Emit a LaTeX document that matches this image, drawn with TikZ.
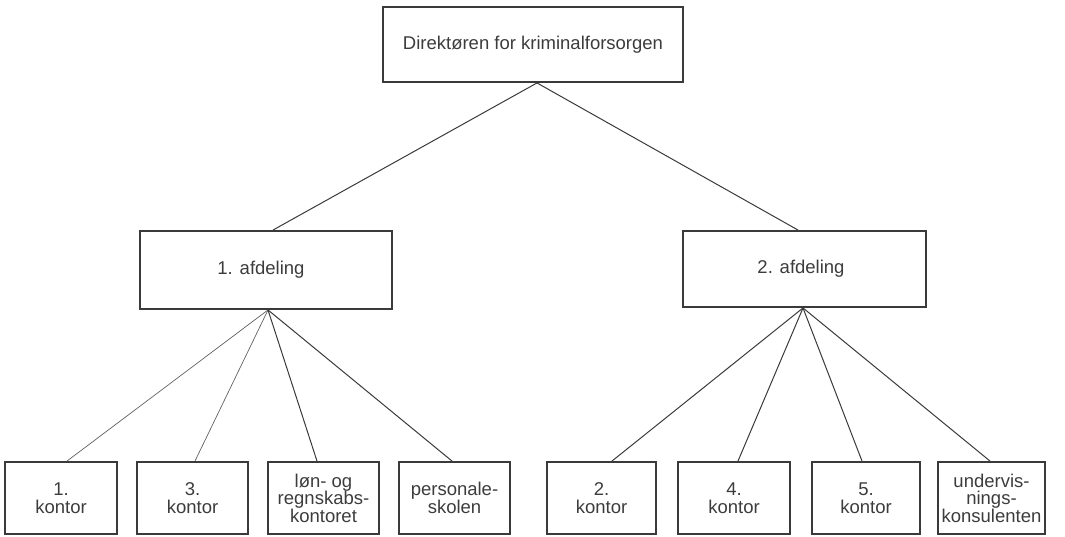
\documentclass[tikz,border=0pt]{standalone}
\usepackage{fontspec}
\setmainfont{Liberation Sans}
\usetikzlibrary{calc}
\definecolor{ink}{HTML}{3A3A3A}
\definecolor{txt}{HTML}{3C3C3C}
\tikzset{
  box/.style={draw=ink, line width=1.9pt, rectangle, inner sep=0pt, align=center,
    text=txt, font=\fontsize{18.5}{17.5}\selectfont},
  conn/.style={draw=ink, line width=1pt},
  connthin/.style={draw=ink!80, line width=0.7pt},
}
\begin{document}
\begin{tikzpicture}[x=1pt,y=-1pt]
\useasboundingbox (0,0) rectangle (1065,537);
\node[box, minimum width=300, minimum height=75] (top) at (533,44.5) {Direktøren for kriminalforsorgen};
\node[box, minimum width=252, minimum height=78] (afd1) at (266,270) {1. afdeling\hspace*{10pt}};
\node[box, minimum width=243, minimum height=76] (afd2) at (804.5,269) {2. afdeling\hspace*{7pt}};
\node[box, minimum width=112, minimum height=72] (k1) at (61,498) {1.\\kontor};
\node[box, minimum width=111, minimum height=72] (k3) at (192.5,498) {3.\\kontor};
\node[box, minimum width=111, minimum height=72] (lon) at (323.5,498) {løn- og\\regnskabs-\\kontoret};
\node[box, minimum width=111, minimum height=72] (pers) at (454.5,498) {personale-\\skolen};
\node[box, minimum width=109, minimum height=72] (k2) at (601.5,498) {2.\\kontor};
\node[box, minimum width=112, minimum height=72] (k4) at (734,498) {4.\\kontor};
\node[box, minimum width=108, minimum height=72] (k5) at (866,498) {5.\\kontor};
\node[box, minimum width=107, minimum height=72] (und) at (991.5,498) {undervis-\\nings-\\konsulenten};
% top level
\draw[conn] ([xshift=4]top.south) -- ([xshift=7]afd1.north);
\draw[conn] ([xshift=4]top.south) -- ([xshift=-6.5]afd2.north);
% afdeling 1
\draw[connthin] ([xshift=2]afd1.south) -- ([xshift=6]k1.north);
\draw[connthin] ([xshift=2]afd1.south) -- ([xshift=2.5]k3.north);
\draw[conn] ([xshift=2]afd1.south) -- ([xshift=-6.5]lon.north);
\draw[conn] ([xshift=2]afd1.south) -- ([xshift=-2.5]pers.north);
% afdeling 2
\draw[conn] ([xshift=-1.5]afd2.south) -- ([xshift=10.5]k2.north);
\draw[conn] ([xshift=-1.5]afd2.south) -- ([xshift=4]k4.north);
\draw[conn] ([xshift=-1.5]afd2.south) -- ([xshift=-4]k5.north);
\draw[conn] ([xshift=-1.5]afd2.south) -- ([xshift=-1.5]und.north);
\end{tikzpicture}
\end{document}
